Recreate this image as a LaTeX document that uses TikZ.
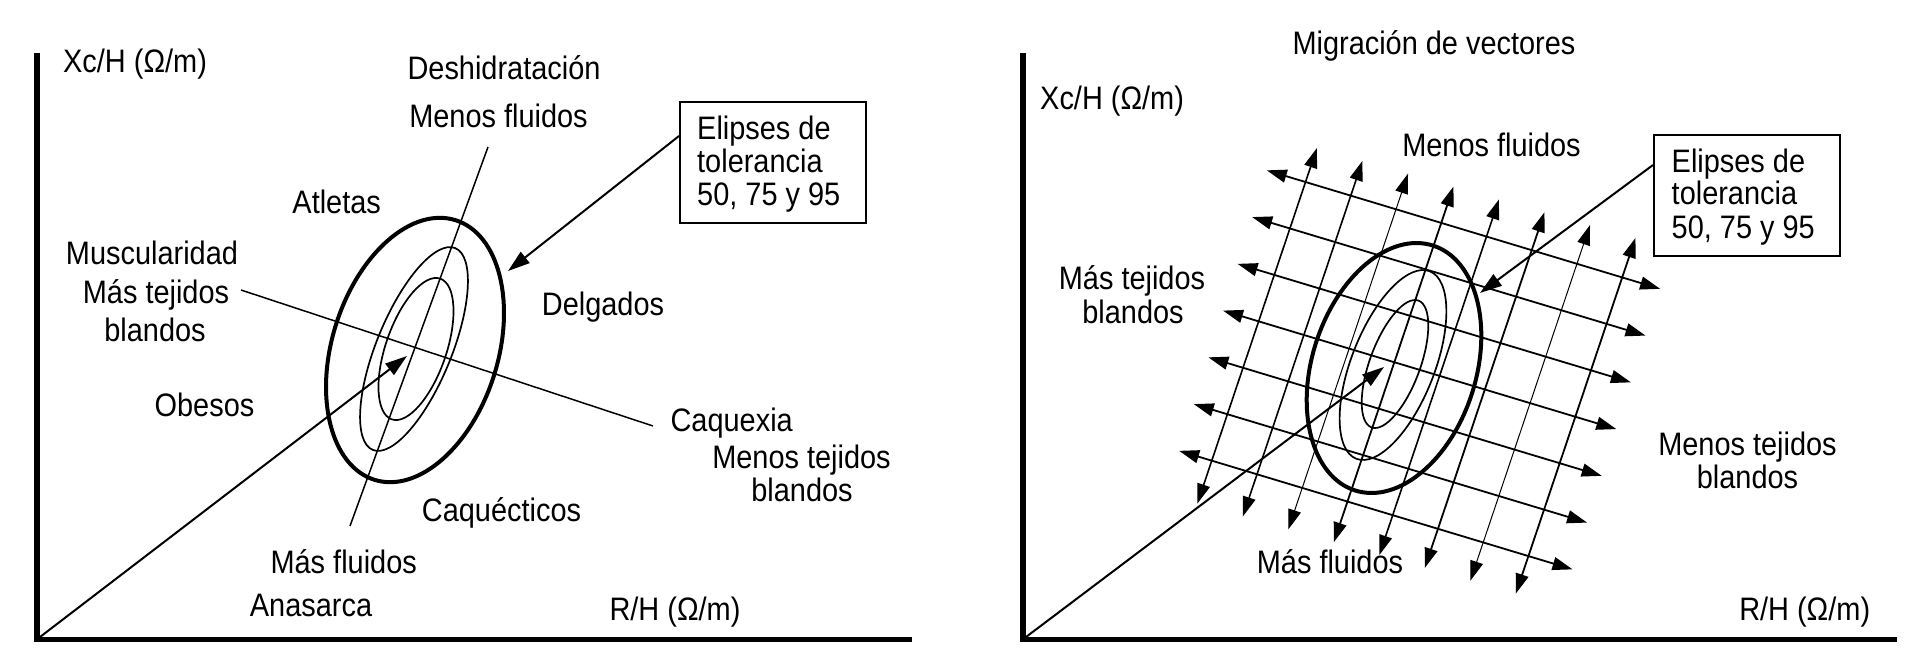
\documentclass[tikz,border=0pt]{standalone}
\usepackage{fontspec}
\setmainfont{Liberation Sans}[FakeStretch=0.89]
\usetikzlibrary{arrows.meta}
\begin{document}
\begin{tikzpicture}[x=1pt,y=-1pt,
  font=\fontsize{32.5}{33}\selectfont,
  lbl/.style={inner sep=0pt, anchor=base},
  lblw/.style={inner sep=0pt, anchor=base west},
  axisline/.style={line width=5.7pt, line join=miter},
  crossline/.style={line width=1.5pt},
  ellout/.style={line width=4pt},
  ellin/.style={line width=1.7pt},
  arr/.style={line width=2pt, -{Triangle[length=22pt,width=14pt]}},
  dbl/.style={line width=1.8pt, {Triangle[length=20pt,width=13pt]}-{Triangle[length=20pt,width=13pt]}},
  boxst/.style={draw, line width=2pt, minimum width=186pt, minimum height=121pt, inner sep=0pt, anchor=north west}
]
\useasboundingbox (0,0) rectangle (1925,666);

%%%%%%%%%%%%%%%% LEFT PANEL
\draw[axisline] (37,53) -- (37,639.5) -- (912,639.5);
\coordinate (oL) at (40,637);

% ellipses
\draw[ellout, rotate around={72.7:(415,350)}] (415,350) ellipse[x radius=136pt, y radius=83pt];
\draw[ellin, rotate around={67.8:(414,349)}] (414,349) ellipse[x radius=109pt, y radius=37.6pt];
\draw[ellin, rotate around={71:(416,349)}] (416,349) ellipse[x radius=74.4pt, y radius=30.3pt];

% cross lines
\coordinate (stTop) at (488,147);
\coordinate (stBot) at (350,526);
\draw[crossline] (stTop) -- (stBot);
\coordinate (shL) at (241,290);
\coordinate (shR) at (653,426);
\draw[crossline] (shL) -- (shR);

% arrows
\coordinate (ctipL) at (407,356);
\draw[arr] (oL) -- (ctipL);
\node[boxst] (boxL) at (679,101) {};
\coordinate (etipL) at (508,271);
\draw[arr] ([yshift=-35pt]boxL.north west) -- (etipL);

% texts
\node[lblw] (xcL) at (63,73) {Xc/H (Ω/m)};
\node[lbl] (desh) at (504,80) {Deshidratación};
\node[lbl] (menfL) at (498.5,128) {Menos fluidos};
\node[lblw] (eL1) at (697,140) {Elipses de};
\node[lblw] (eL2) at (697,172) {tolerancia};
\node[lblw] (eL3) at (697,205) {50, 75 y 95};
\node[lbl] (atl) at (336.7,213) {Atletas};
\node[lbl] (musc) at (152,264) {Muscularidad};
\node[lbl] (mtL1) at (156,303) {Más tejidos};
\node[lbl] (mtL2) at (155,341) {blandos};
\node[lbl] (delg) at (603,315) {Delgados};
\node[lbl] (obes) at (204.5,416) {Obesos};
\node[lbl] (caqx) at (731.7,431) {Caquexia};
\node[lbl] (mntL1) at (801.5,468) {Menos tejidos};
\node[lbl] (mntL2) at (802,501) {blandos};
\node[lbl] (caqc) at (501.5,521) {Caquécticos};
\node[lbl] (mfL) at (343.7,573) {Más fluidos};
\node[lbl] (anas) at (311,616) {Anasarca};
\node[lbl] (rhL) at (675,620) {R/H (Ω/m)};

%%%%%%%%%%%%%%%% RIGHT PANEL
\draw[axisline] (1023,53) -- (1023,639.5) -- (1897,639.5);
\coordinate (oR) at (1026,637);

\draw[ellout, rotate around={72.4:(1394,368)}] (1394,368) ellipse[x radius=128.5pt, y radius=82pt];
\draw[ellin, rotate around={68.6:(1393,365)}] (1393,365) ellipse[x radius=100.7pt, y radius=41.6pt];
\draw[ellin, rotate around={69.7:(1395,364)}] (1395,364) ellipse[x radius=67.6pt, y radius=25.2pt];

% grid of double arrows
\foreach \i in {1,...,7}{
  \coordinate (gl\i) at ({1223-(\i-4)*14.6},{310.6+(\i-4)*46.75});
  \draw[dbl] (gl\i) -- ++(393.3,118.5);
}
\foreach \j/\w in {1/1.6,2/1.6,3/1,4/1.8,5/1.6,6/1.8,7/1,8/1.8}{
  \coordinate (gt\j) at ({1476.25+(\j-4.5)*45.5},{192.9+(\j-4.5)*12.85});
  \draw[dbl, line width=\w pt] (gt\j) -- ++(-119.75,355.85);
}

\coordinate (ctipR) at (1384,367);
\draw[arr] (oR) -- (ctipR);
\node[boxst] (boxR) at (1653,134) {};
\coordinate (etipR) at (1480,293);
\draw[arr] ([yshift=-31pt]boxR.north west) -- (etipR);

\node[lbl] (title) at (1434,55) {Migración de vectores};
\node[lblw] (xcR) at (1040,110) {Xc/H (Ω/m)};
\node[lbl] (menfR) at (1491.5,157) {Menos fluidos};
\node[lblw] (eR1) at (1671.5,172) {Elipses de};
\node[lblw] (eR2) at (1671.5,204.5) {tolerancia};
\node[lblw] (eR3) at (1671.5,238) {50, 75 y 95};
\node[lbl] (mtR1) at (1132,289) {Más tejidos};
\node[lbl] (mtR2) at (1133,323) {blandos};
\node[lbl] (mntR1) at (1747.5,455) {Menos tejidos};
\node[lbl] (mntR2) at (1747.5,488) {blandos};
\node[lbl] (mfR) at (1330,573) {Más fluidos};
\node[lbl] (rhR) at (1804.7,620) {R/H (Ω/m)};
\end{tikzpicture}
\end{document}
